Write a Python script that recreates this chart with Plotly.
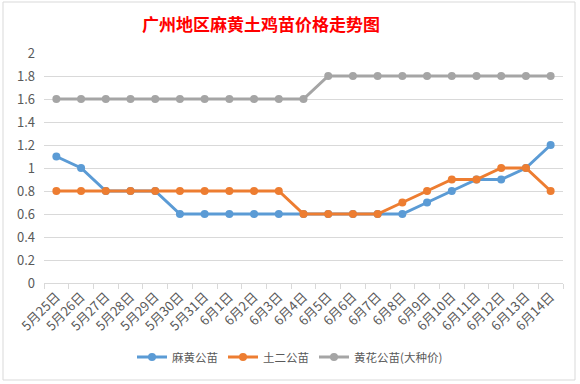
import plotly.graph_objects as go

dates = ["5月25日", "5月26日", "5月27日", "5月28日", "5月29日", "5月30日", "5月31日",
         "6月1日", "6月2日", "6月3日", "6月4日", "6月5日", "6月6日", "6月7日",
         "6月8日", "6月9日", "6月10日", "6月11日", "6月12日", "6月13日", "6月14日"]
mahuang = [1.1, 1.0, 0.8, 0.8, 0.8, 0.6, 0.6, 0.6, 0.6, 0.6, 0.6, 0.6, 0.6, 0.6,
           0.6, 0.7, 0.8, 0.9, 0.9, 1.0, 1.2]
tuer = [0.8, 0.8, 0.8, 0.8, 0.8, 0.8, 0.8, 0.8, 0.8, 0.8, 0.6, 0.6, 0.6, 0.6,
        0.7, 0.8, 0.9, 0.9, 1.0, 1.0, 0.8]
huanghua = [1.6, 1.6, 1.6, 1.6, 1.6, 1.6, 1.6, 1.6, 1.6, 1.6, 1.6, 1.8, 1.8, 1.8,
            1.8, 1.8, 1.8, 1.8, 1.8, 1.8, 1.8]
y_ticks = [0, 0.2, 0.4, 0.6, 0.8, 1, 1.2, 1.4, 1.6, 1.8, 2]
y_labels = ["0", "0.2", "0.4", "0.6", "0.8", "1", "1.2", "1.4", "1.6", "1.8", "2"]

series = [("麻黄公苗", mahuang, "#5b9bd5"),
          ("土二公苗", tuer, "#ed7d31"),
          ("黄花公苗(大种价)", huanghua, "#a5a5a5")]

font = "Noto Sans CJK SC, Noto Sans, sans-serif"
fig = go.Figure()
for name, vals, col in series:
    fig.add_trace(go.Scatter(x=dates, y=vals, name=name, mode="lines+markers",
                             line=dict(color=col, width=3),
                             marker=dict(color=col, size=8)))

W, H = 580, 384
L, R, T, B = 44, 17, 53, 101
pw, ph = W - L - R, H - T - B

fig.update_layout(
    width=W, height=H,
    margin=dict(l=L, r=R, t=T, b=B, autoexpand=False),
    paper_bgcolor="white", plot_bgcolor="white",
    font=dict(family=font, color="#595959", size=12),
    title=dict(text="<b>广州地区麻黄土鸡苗价格走势图</b>", x=261 / W, xanchor="center",
               xref="container", y=1 - 25 / H, yanchor="middle", yref="container",
               font=dict(family=font, size=17, color="#ff0000")),
    legend=dict(orientation="h", x=(290 - L) / pw, xanchor="center",
                y=(H - B - 357) / ph, yanchor="middle",
                font=dict(size=11.5, color="#595959"), itemwidth=30),
    showlegend=True,
    shapes=[dict(type="rect", xref="paper", yref="paper",
                 x0=(3 - L) / pw, x1=(575 - L) / pw,
                 y0=(H - B - 380) / ph, y1=(H - B - 2) / ph,
                 line=dict(color="#d9d9d9", width=1), layer="below")],
)
fig.update_xaxes(type="category", tickangle=-45, showgrid=False, automargin=False,
                 showline=True, linecolor="#d9d9d9", linewidth=1,
                 ticks="outside", tickson="boundaries", ticklen=5, tickcolor="#d9d9d9",
                 tickfont=dict(size=13, color="#595959"),
                 range=[-0.5, 20.5])
fig.update_yaxes(range=[0, 2], tickvals=y_ticks, ticktext=y_labels, automargin=False,
                 showgrid=True, gridcolor="#d9d9d9", gridwidth=1, zeroline=False,
                 showline=False, ticks="", ticklabelstandoff=8,
                 tickfont=dict(size=13, color="#595959"))

fig.write_html("out.html", config={"displayModeBar": False},
               post_script="document.body.style.margin='0';")
